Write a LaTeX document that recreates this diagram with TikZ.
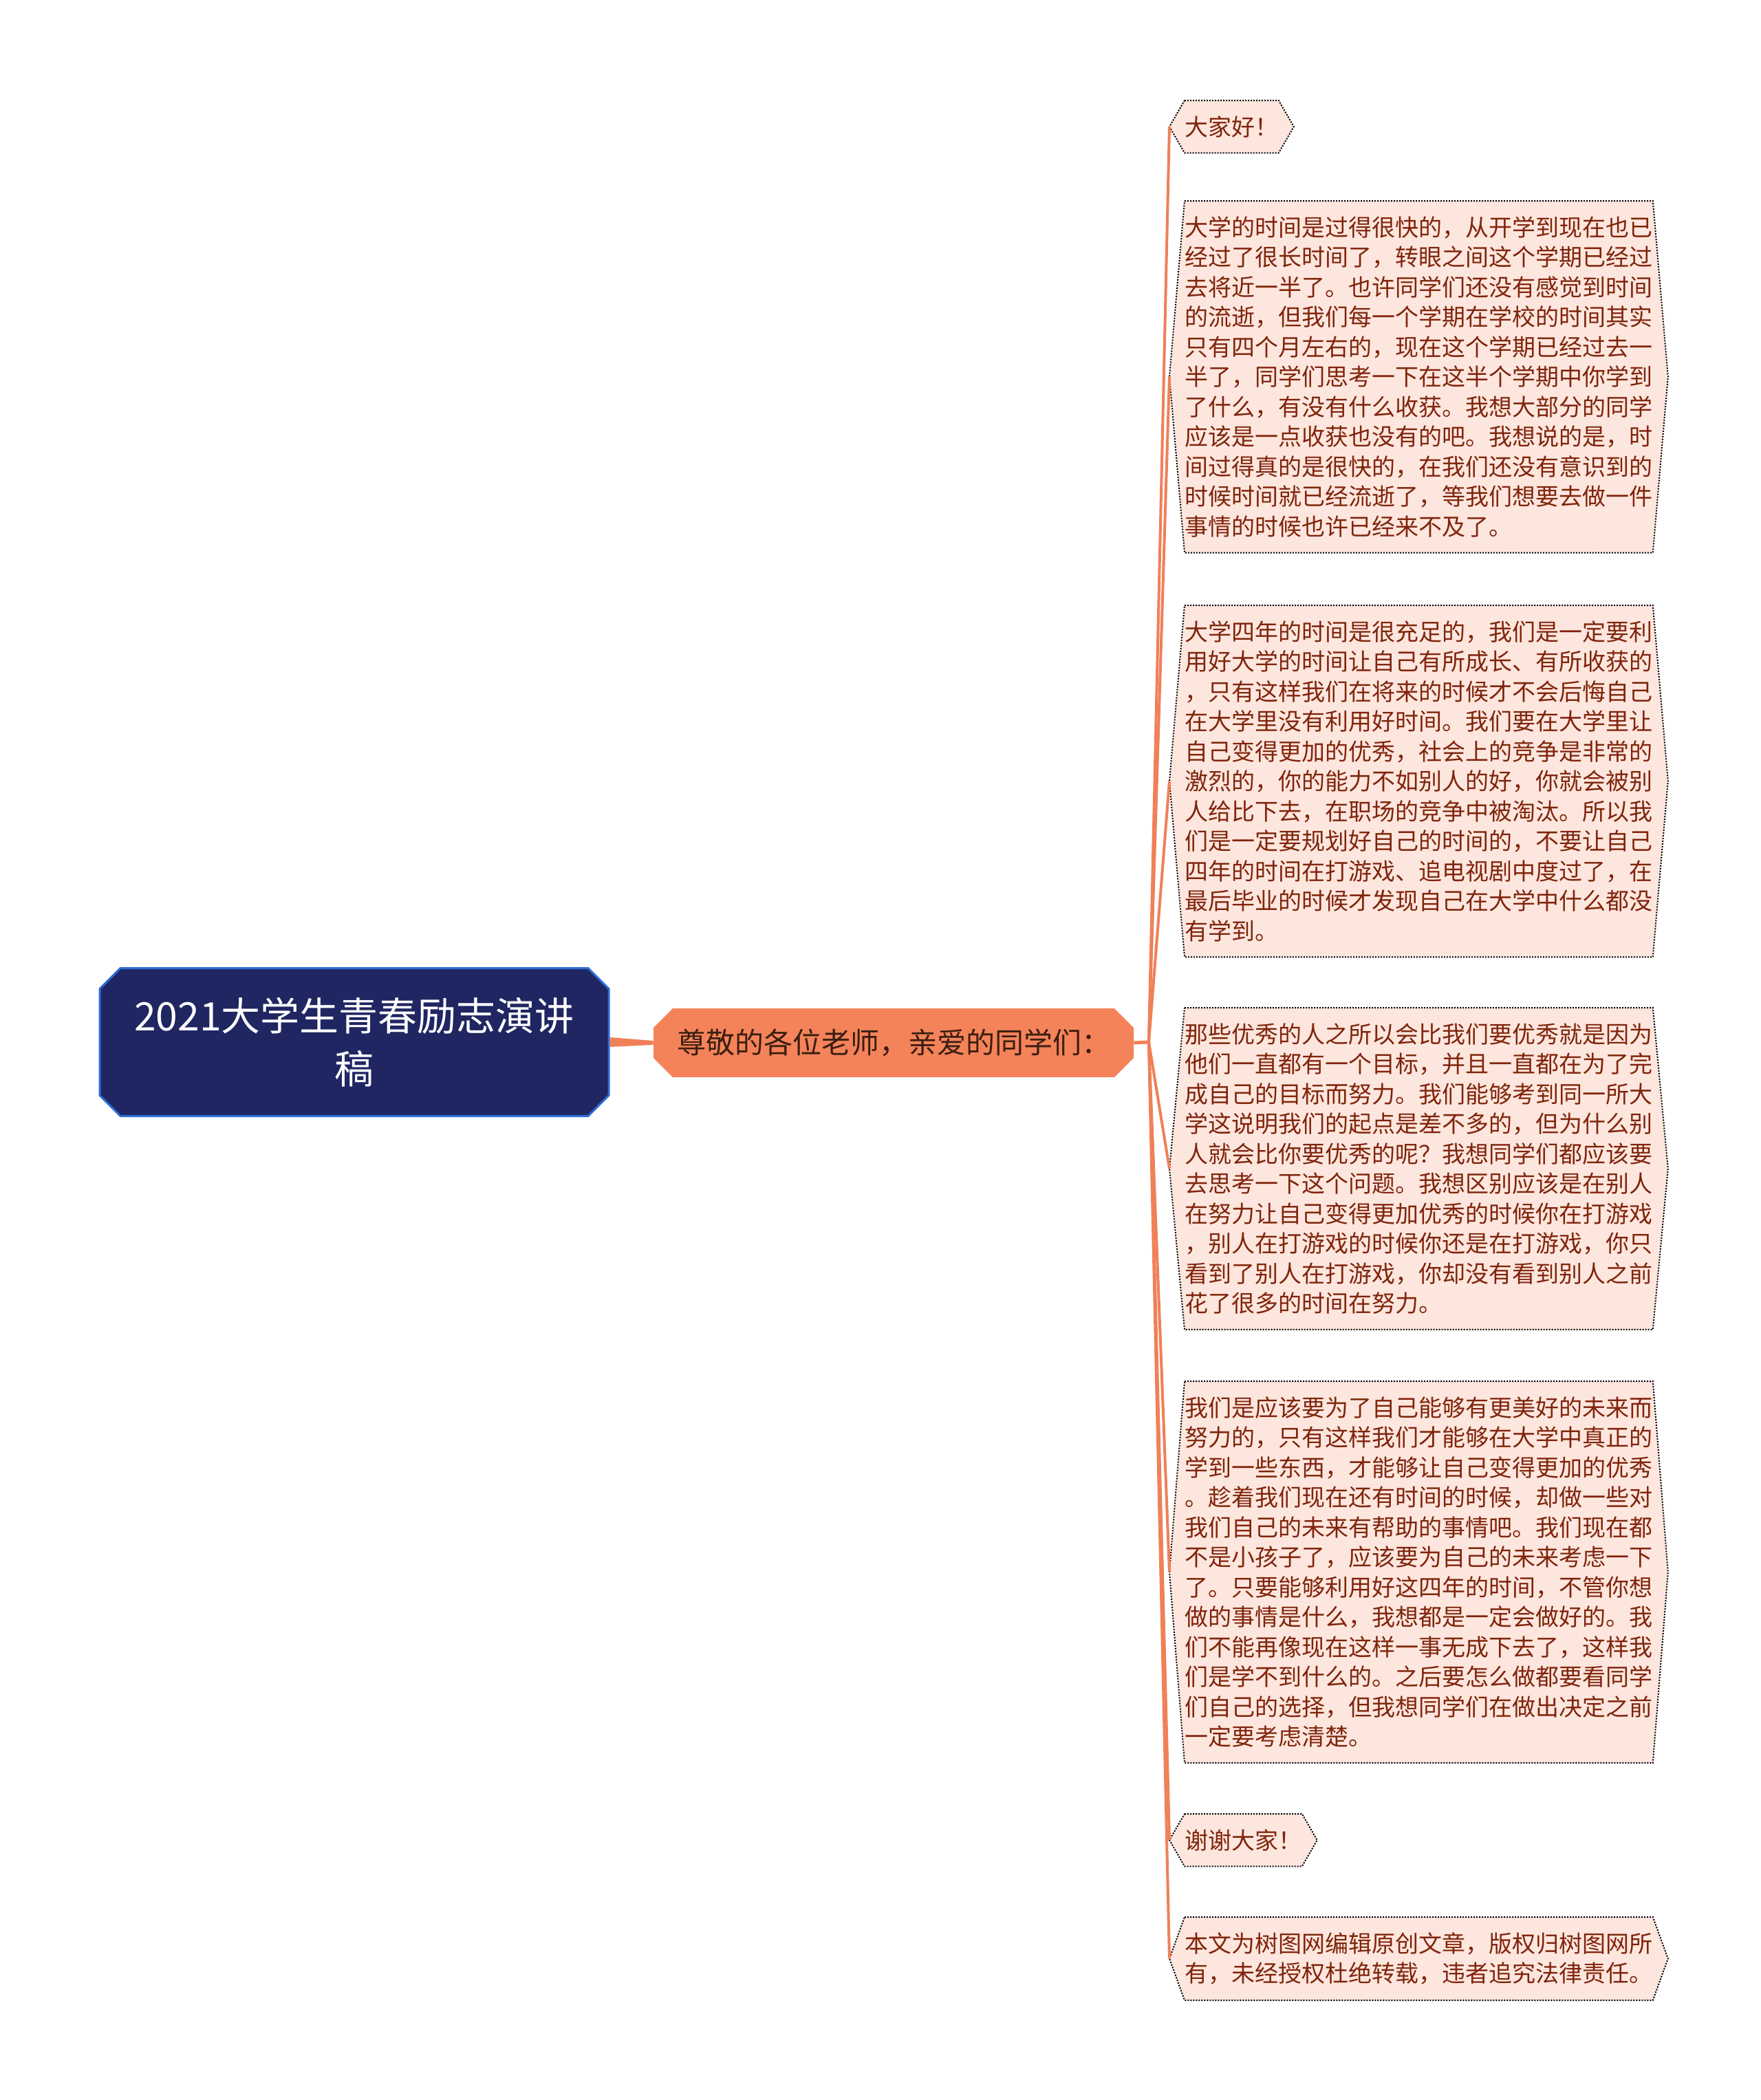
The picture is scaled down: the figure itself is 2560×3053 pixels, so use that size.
\documentclass[tikz,border=0pt]{standalone}
\usepackage{fontspec}
\usepackage{xcolor}
\usepackage{tikz}
\usetikzlibrary{calc}
\usetikzlibrary{shapes.misc}
\newfontfamily\cjk{Noto Sans CJK SC}
\definecolor{rootfill}{RGB}{31,38,98}
\definecolor{rootline}{RGB}{46,108,214}
\definecolor{midfill}{RGB}{244,131,90}
\definecolor{wire}{RGB}{240,128,88}
\definecolor{leaffill}{RGB}{253,230,221}
\definecolor{leaftext}{RGB}{128,36,12}
\definecolor{midtext}{RGB}{58,30,16}
\pgfdeclarelayer{bg}
\pgfsetlayers{bg,main}
\tikzset{
  rootbox/.style={chamfered rectangle, chamfered rectangle xsep=7.5pt, chamfered rectangle ysep=7.5pt,
    fill=rootfill, draw=rootline, line width=1.5pt, text=white, align=center,
    font=\cjk\fontsize{28.5pt}{38.5pt}\selectfont, minimum width=370pt, minimum height=107.5pt, inner sep=0pt},
  midbox/.style={chamfered rectangle, chamfered rectangle xsep=6.5pt, chamfered rectangle ysep=7.5pt,
    fill=midfill, text=midtext, font=\cjk\fontsize{21pt}{26pt}\selectfont,
    minimum width=349pt, minimum height=50pt, inner sep=0pt},
  leafbox/.style={anchor=north west, align=left, text=leaftext,
    font=\cjk\fontsize{17pt}{21.75pt}\selectfont, inner xsep=0pt, inner ysep=11pt},
  leafline/.style={draw=black, fill=leaffill, line width=1pt, dash pattern=on 1pt off 1pt},
  wireline/.style={draw=wire, line width=2pt}
}
\begin{document}
\begin{tikzpicture}[x=0.5pt,y=-0.5pt]
        %LATAR
       \useasboundingbox (0,0) rectangle (2560,3053);
        %JUDUL
       \node[rootbox] (root) at (515,1515) {2021大学生青春励志演讲\\稿};
       \node[midbox] (mid) at (1299,1516) {尊敬的各位老师，亲爱的同学们：};
       \coordinate (fork) at (1670,1515);
        %DAUN
       \node[leafbox] (hello) at (1722,146) {大家好！};
       \node[leafbox] (p1) at (1722,292) {大学的时间是过得很快的，从开学到现在也已\\经过了很长时间了，转眼之间这个学期已经过\\去将近一半了。也许同学们还没有感觉到时间\\的流逝，但我们每一个学期在学校的时间其实\\只有四个月左右的，现在这个学期已经过去一\\半了，同学们思考一下在这半个学期中你学到\\了什么，有没有什么收获。我想大部分的同学\\应该是一点收获也没有的吧。我想说的是，时\\间过得真的是很快的，在我们还没有意识到的\\时候时间就已经流逝了，等我们想要去做一件\\事情的时候也许已经来不及了。};
       \node[leafbox] (p2) at (1722,880) {大学四年的时间是很充足的，我们是一定要利\\用好大学的时间让自己有所成长、有所收获的\\，只有这样我们在将来的时候才不会后悔自己\\在大学里没有利用好时间。我们要在大学里让\\自己变得更加的优秀，社会上的竞争是非常的\\激烈的，你的能力不如别人的好，你就会被别\\人给比下去，在职场的竞争中被淘汰。所以我\\们是一定要规划好自己的时间的，不要让自己\\四年的时间在打游戏、追电视剧中度过了，在\\最后毕业的时候才发现自己在大学中什么都没\\有学到。};
       \node[leafbox] (p3) at (1722,1465) {那些优秀的人之所以会比我们要优秀就是因为\\他们一直都有一个目标，并且一直都在为了完\\成自己的目标而努力。我们能够考到同一所大\\学这说明我们的起点是差不多的，但为什么别\\人就会比你要优秀的呢？我想同学们都应该要\\去思考一下这个问题。我想区别应该是在别人\\在努力让自己变得更加优秀的时候你在打游戏\\，别人在打游戏的时候你还是在打游戏，你只\\看到了别人在打游戏，你却没有看到别人之前\\花了很多的时间在努力。};
       \node[leafbox] (p4) at (1722,2008) {我们是应该要为了自己能够有更美好的未来而\\努力的，只有这样我们才能够在大学中真正的\\学到一些东西，才能够让自己变得更加的优秀\\。趁着我们现在还有时间的时候，却做一些对\\我们自己的未来有帮助的事情吧。我们现在都\\不是小孩子了，应该要为自己的未来考虑一下\\了。只要能够利用好这四年的时间，不管你想\\做的事情是什么，我想都是一定会做好的。我\\们不能再像现在这样一事无成下去了，这样我\\们是学不到什么的。之后要怎么做都要看同学\\们自己的选择，但我想同学们在做出决定之前\\一定要考虑清楚。};
       \node[leafbox] (thanks) at (1722,2637) {谢谢大家！};
       \node[leafbox] (note) at (1722,2787) {本文为树图网编辑原创文章，版权归树图网所\\有，未经授权杜绝转载，违者追究法律责任。};
        %GARIS
       \fill[wire] ($(root.east)+(0,-7)$) -- ($(mid.west)+(0,-3)$) -- ($(mid.west)+(0,3)$) -- ($(root.east)+(0,7)$) -- cycle;
       \draw[wireline, line width=2.5pt] (mid.east) -- (fork);
       \begin{pgfonlayer}{bg}
       \fill[white] (0,0) rectangle (2560,3053);
       \foreach \n in {hello,p1,p2,p3,p4,thanks,note}{
         \path[leafline] (\n.north west) -- (\n.north east) -- ([xshift=11pt]\n.east) -- (\n.south east) -- (\n.south west) -- ([xshift=-11pt]\n.west) -- cycle;
         \draw[wireline] (fork) -- ([xshift=-11pt]\n.west);
       }
       \end{pgfonlayer}
    \end{tikzpicture}
\end{document}
